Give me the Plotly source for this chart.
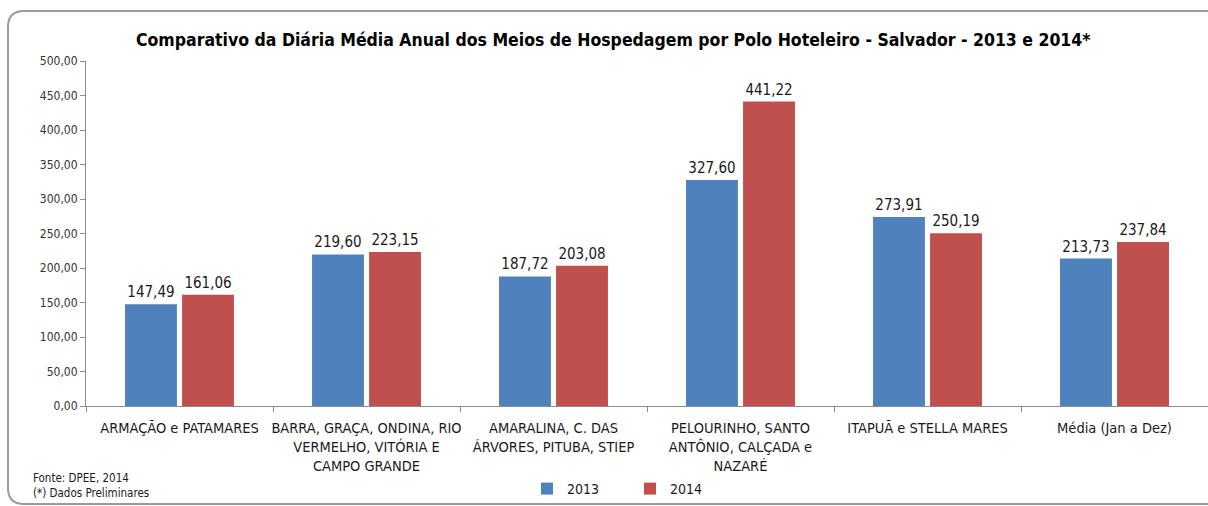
import plotly.graph_objects as go

categories = [
    "ARMAÇÃO e PATAMARES",
    "BARRA, GRAÇA, ONDINA, RIO<br>VERMELHO, VITÓRIA E<br>CAMPO GRANDE",
    "AMARALINA, C. DAS<br>ÁRVORES, PITUBA, STIEP",
    "PELOURINHO, SANTO<br>ANTÔNIO, CALÇADA e<br>NAZARÉ",
    "ITAPUÃ e STELLA MARES",
    "Média (Jan a Dez)",
]
values_2013 = [147.49, 219.60, 187.72, 327.60, 273.91, 213.73]
values_2014 = [161.06, 223.15, 203.08, 441.22, 250.19, 237.84]
y_ticks = [0, 50, 100, 150, 200, 250, 300, 350, 400, 450, 500]

FONT = "DejaVu Sans Condensed, DejaVu Sans, sans-serif"
TXT = "#1a1a1a"

fig = go.Figure()
fig.add_trace(go.Bar(
    name="2013", x=categories, y=values_2013, marker_color="#4F81BD",
    marker_line_width=0,
    text=values_2013, texttemplate="%{y:.2f}", textposition="outside",
    textfont=dict(family=FONT, size=15, color=TXT), cliponaxis=False,
))
fig.add_trace(go.Bar(
    name="2014", x=categories, y=values_2014, marker_color="#C0504D",
    marker_line_width=0,
    text=values_2014, texttemplate="%{y:.2f}", textposition="outside",
    textfont=dict(family=FONT, size=15, color=TXT), cliponaxis=False,
))

fig.update_layout(
    width=1208, height=506,
    margin=dict(l=86, r=0, t=61, b=100),
    paper_bgcolor="white", plot_bgcolor="white",
    separators=",.",
    barmode="group", bargap=0.39, bargroupgap=0.09,
    font=dict(family=FONT, color=TXT),
    showlegend=True,
    legend=dict(orientation="h", x=(527 - 86) / 1122, xanchor="left", y=-(473 - 406) / 345,
                yanchor="top",
                font=dict(family=FONT, size=14, color=TXT),
                itemwidth=30, entrywidth=58, entrywidthmode="pixels",
                traceorder="normal", bgcolor="rgba(0,0,0,0)"),
)
fig.update_yaxes(
    range=[0, 500], tickvals=y_ticks, tickformat=".2f",
    showgrid=False, zeroline=False,
    showline=True, linecolor="#8c8c8c", linewidth=1,
    ticks="outside", ticklen=5, tickcolor="#8c8c8c",
    tickfont=dict(family=FONT, size=12, color="#333333"),
)
fig.update_xaxes(
    showline=True, linecolor="#8c8c8c", linewidth=1,
    ticks="outside", ticklen=5, tickcolor="#8c8c8c", tickson="boundaries",
    tickangle=0, ticklabelstandoff=9,
    tickfont=dict(family=FONT, size=14.5, color=TXT),
)

# Title
fig.add_annotation(
    text="<b>Comparativo da Diária Média Anual dos Meios de Hospedagem por Polo Hoteleiro - Salvador - 2013 e 2014*</b>",
    xref="paper", yref="paper", x=(613 - 86) / 1122, y=1.0 + 21 / 345, xanchor="center", yanchor="middle",
    showarrow=False, font=dict(family=FONT, size=17.5, color="#000000"),
)
# Footnotes
fig.add_annotation(
    text="Fonte: DPEE, 2014<br>(*) Dados Preliminares",
    xref="paper", yref="paper", x=(31 - 86) / 1122, y=-(469 - 406) / 345,
    xanchor="left", yanchor="top", align="left", showarrow=False,
    font=dict(family=FONT, size=11.5, color=TXT),
)

# Rounded chart border
def px(x):
    return (x - 86) / 1122

def py(y):
    return (406 - y) / 345

path = (
    f"M {px(1212)},{py(11)} L {px(24)},{py(11)} "
    f"Q {px(8)},{py(11)} {px(8)},{py(27)} "
    f"L {px(8)},{py(488)} Q {px(8)},{py(504)} {px(24)},{py(504)} "
    f"L {px(1212)},{py(504)}"
)
fig.add_shape(type="path", path=path, xref="paper", yref="paper",
              line=dict(color="#9a9a9a", width=2), layer="below")

fig.write_html("out.html", config={"displayModeBar": False},
               post_script="document.body.style.margin='0';")
